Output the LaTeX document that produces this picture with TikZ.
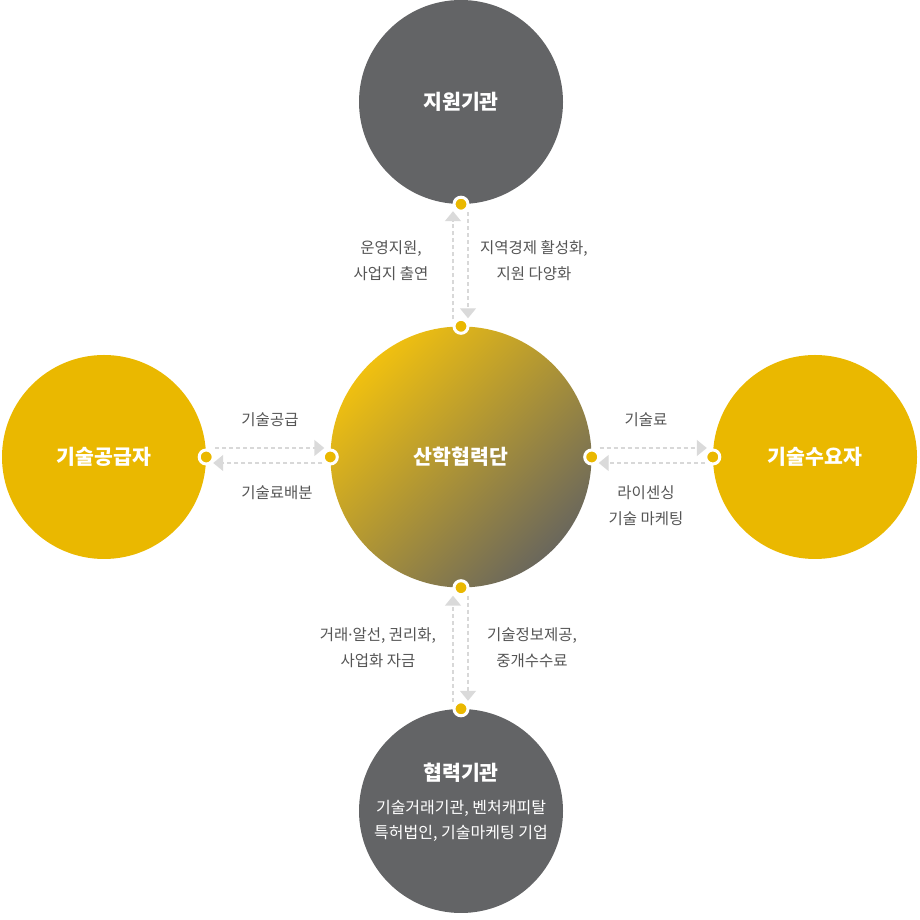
\documentclass[tikz,border=0pt]{standalone}
\usepackage{fontspec}
\setmainfont{Noto Sans CJK KR}
\newfontfamily\latinfont{Noto Sans}
\usetikzlibrary{arrows.meta,calc}
\definecolor{gold}{HTML}{EAB800}
\definecolor{darkgray}{HTML}{636466}
\definecolor{dotyellow}{HTML}{EAB800}
\definecolor{dashgray}{HTML}{D8D8D8}
\definecolor{headgray}{HTML}{DADADA}
\definecolor{labelgray}{HTML}{555555}
\definecolor{gradA}{HTML}{F0C010}
\definecolor{gradB}{HTML}{6A675C}
\tikzset{
  bigcircle/.style={circle, inner sep=0pt, minimum size=204pt, text=white,
    font=\fontsize{20.5}{24}\selectfont\bfseries},
  dotnode/.style={circle, inner sep=0pt, minimum size=14pt, fill=dotyellow, draw=white, line width=3pt},
  conn/.style={draw=dashgray, line width=1.4pt, dash pattern=on 4pt off 3pt,
    -{Triangle[width=16pt,length=10pt,fill=headgray,color=headgray]}},
  lbl/.style={text=labelgray, align=center, font=\fontsize{15.5}{26}\selectfont, inner sep=0pt},
}
\begin{document}
\begin{tikzpicture}[x=1pt,y=1pt]
\useasboundingbox (0,0) rectangle (920,920);
% circles
\node[bigcircle, fill=darkgray] (top) at (461,818) {지원기관};
\node[bigcircle, fill=gold] (left) at (104,463) {기술공급자};
\node[bigcircle, fill=gold] (right) at (815,463) {기술수요자};
\node[bigcircle, fill=darkgray] (bottom) at (461,109) {};
\node[circle, inner sep=0pt, minimum size=261pt, top color=gradA, bottom color=gradB, shading angle=45,
  text=white, font=\fontsize{20.5}{24}\selectfont\bfseries] (center) at (461,463) {산학협력단};
% bottom circle texts
\node[text=white, font=\fontsize{20.5}{24}\selectfont\bfseries, inner sep=0pt] (bt) at (461,147) {협력기관};
\node[text=white, align=center, font=\fontsize{16}{25}\selectfont, inner sep=0pt] (bs) at (461,99.5) {기술거래기관, 벤처캐피탈\\특허법인, 기술마케팅 기업};
% dot positions
\coordinate (pT) at (top.south);
\coordinate (pCT) at (center.north);
\coordinate (pL) at (left.east);
\coordinate (pCL) at (center.west);
\coordinate (pCR) at (center.east);
\coordinate (pR) at (right.west);
\coordinate (pCB) at (center.south);
\coordinate (pB) at (bottom.north);
% connectors
\draw[conn] ($(pCT)+(-8,7)$) -- ($(pT)+(-8,-7)$);
\draw[conn] ($(pT)+(7,-8)$) -- ($(pCT)+(7,8)$);
\draw[conn] ($(pL)+(9,9)$) -- ($(pCL)+(-6,9)$);
\draw[conn] ($(pCL)+(-8,-6)$) -- ($(pL)+(7,-6)$);
\draw[conn] ($(pCR)+(8,9)$) -- ($(pR)+(-6,9)$);
\draw[conn] ($(pR)+(-8,-6)$) -- ($(pCR)+(7,-6)$);
\draw[conn] ($(pB)+(-8,7)$) -- ($(pCB)+(-8,-8)$);
\draw[conn] ($(pCB)+(7,-8)$) -- ($(pB)+(7,8)$);
% dots
\node[dotnode] (dT) at (pT) {};
\node[dotnode] (dCT) at (pCT) {};
\node[dotnode] (dL) at (pL) {};
\node[dotnode] (dCL) at (pCL) {};
\node[dotnode] (dCR) at (pCR) {};
\node[dotnode] (dR) at (pR) {};
\node[dotnode] (dCB) at (pCB) {};
\node[dotnode] (dB) at (pB) {};
% labels
\node[lbl] (l1) at (391,659.5) {운영지원,\\사업지 출연};
\node[lbl] (l2) at (534,659.5) {지역경제 활성화,\\지원 다양화};
\node[lbl] (l3) at (270,500) {기술공급};
\node[lbl] (l4) at (277,427) {기술료배분};
\node[lbl] (l5) at (646,500) {기술료};
\node[lbl] (l6) at (646,414.5) {라이센싱\\기술 마케팅};
\node[lbl] (l7) at (378,272) {거래{\latinfont ·}알선, 권리화,\\사업화 자금};
\node[lbl] (l8) at (532,272) {기술정보제공,\\중개수수료};
\end{tikzpicture}
\end{document}
